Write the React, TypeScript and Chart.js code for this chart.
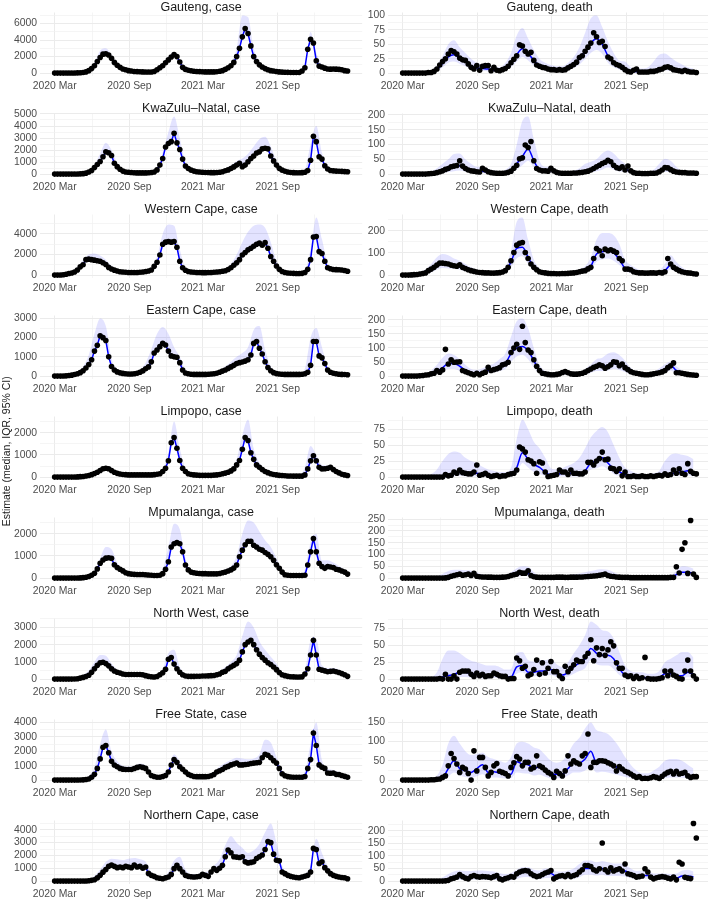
import React, { useEffect, useRef } from "react";
import { Chart, registerables } from "chart.js";
Chart.register(...registerables);

// ---------- x axis (weeks since 2020-03-01) ----------
const X_MAJOR = [0, 26.29, 52.14, 78.43];
const X_MAJOR_LABELS = ["2020 Mar", "2020 Sep", "2021 Mar", "2021 Sep"];
const X_MINOR = [13.14, 39.29, 65.29, 91.43];
const Y_TITLE = "Estimate (median, IQR, 95% CI)";

// ---------- data: weekly observations (104 weeks), bands / medians every 2 weeks (52) ----------
const gautengCase = [0,0,0,0,5,10,15,20,30,50, 80,150,300,550,900,1400,1900,2300,2350,2200, 1800,1300,950,700,500,400,300,250,200,180, 160,150,140,130,140,200,400,650,900,1250, 1600,1950,2250,2000,1350,700,450,350,280,230, 200,180,160,150,150,150,150,170,220,300, 450,650,900,1300,2000,3000,4400,5400,4800,3300, 2000,1400,1000,750,550,400,300,250,200,150, 120,100,90,80,80,80,80,250,650,2900, 4100,3650,1500,850,750,600,500,480,500,480, 450,400,300,250];
const gautengCaseHi = [50,50,50,80,100,200,500,1300,2700,3000, 2200,1200,700,450,300,250,220,300,600,1200, 2000,2600,1700,700,400,300,250,250,300,400, 700,1300,3000,7000,6800,3000,1400,800,450,300, 200,150,150,200,1000,5000,2500,1000,750,700, 650,450];

const gautengDeath = [0,0,0,0,0,0,0,0,0,1, 1,3,7,14,20,25,33,39,37,33, 26,23,22,16,10,7,13,5,12,13, 13,4,10,5,4,6,8,12,18,24, 30,49,47,38,33,36,22,14,12,10, 9,7,6,6,5,6,5,6,9,12, 15,19,27,30,38,45,52,70,63,53, 55,46,28,25,18,15,13,10,6,3, 2,5,7,2,2,2,2,3,3,4, 6,7,10,11,9,6,5,4,3,5, 3,2,2,1];
const gautengDeathMed = [0,0,0,0,0,1,6,17,28,32, 26,20,12,9,8,7,5,4,8,17, 32,42,34,22,12,8,6,5,6,9, 15,25,38,52,60,50,30,18,11,6, 3,3,3,3,4,7,9,8,5,4, 3,2];
const gautengDeathHi = [2,2,2,2,3,5,14,30,50,57, 45,35,25,18,15,12,10,10,18,35, 65,78,60,40,25,18,14,12,12,18, 28,45,70,95,100,80,55,35,22,20, 10,8,8,10,20,32,34,27,20,15, 10,8];
const gautengDeathLo = [0,0,0,0,0,0,3,10,18,20, 16,12,7,5,4,3,2,2,4,10, 20,28,22,13,7,4,3,3,3,5, 9,15,25,35,40,33,18,10,6,3, 1,1,1,1,2,3,5,4,3,2, 1,1];

const kznCase = [0,0,0,0,0,0,0,5,10,20, 40,80,180,300,550,800,1050,1450,1850,1780, 1550,900,620,400,250,180,150,130,110,100, 100,100,100,110,130,180,350,750,1300,2250, 2550,2700,3400,2600,2050,1250,680,470,330,250, 200,170,150,140,130,120,120,130,150,200, 280,350,470,600,750,900,620,750,1030,1300, 1500,1750,1850,2100,2150,2100,1500,1100,750,480, 330,240,180,140,120,110,110,120,150,300, 1150,3150,2700,1450,1250,700,420,300,270,250, 240,230,210,200];
const kznCaseHi = [30,30,30,40,50,100,300,800,1700,2600, 2000,900,400,250,180,160,160,250,600,1800, 3500,4800,3000,1000,500,300,220,200,200,280, 450,750,1100,1300,1700,2300,2900,3100,2300,1100, 500,280,200,200,400,2500,4000,1800,600,400, 350,300];

const kznDeath = [0,0,0,0,0,0,0,0,0,1, 2,3,5,8,11,16,19,25,27,29, 45,27,19,14,11,10,8,7,20,14, 8,5,4,3,3,3,4,6,10,20, 30,52,55,98,90,110,45,19,14,11, 11,10,20,11,6,4,3,3,3,3, 4,4,5,6,8,10,14,19,25,30, 36,40,47,42,30,22,19,25,14,27, 11,5,3,3,2,2,2,3,3,4, 8,14,22,21,15,10,7,6,5,5, 4,4,4,3];
const kznDeathMed = [0,0,0,0,0,2,5,11,18,24, 28,18,11,8,10,6,4,3,4,10, 35,60,85,45,15,10,12,5,3,3, 4,5,8,14,23,34,45,32,21,18, 8,3,2,2,3,8,20,15,7,5, 4,4];
const kznDeathHi = [3,3,3,3,4,10,20,35,50,68, 70,50,35,25,25,18,12,10,15,35, 100,180,195,120,45,25,25,15,10,10, 12,20,35,42,50,70,80,70,50,35, 15,8,6,8,15,35,52,45,25,12, 10,10];
const kznDeathLo = [0,0,0,0,0,0,1,4,7,10, 12,8,5,3,4,2,1,1,1,4, 15,30,45,22,6,4,5,2,1,1, 1,2,3,6,10,15,22,15,9,7, 3,1,0,0,1,3,8,6,3,2, 1,1];

const wcCase = [0,0,10,30,80,150,200,300,500,800, 1000,1500,1550,1500,1450,1400,1350,1200,1030,750, 600,480,400,330,300,280,260,250,250,260, 280,300,350,400,500,850,1250,1950,3000,3200, 3250,3200,3250,2700,1350,720,470,350,300,280, 260,250,240,240,250,260,280,300,330,380, 420,550,720,950,1200,1500,1950,2200,2450,2600, 2800,3000,3100,2900,3150,2600,1800,1350,880,560, 350,250,200,180,170,160,160,170,250,560, 1500,3700,3750,2280,2100,1350,720,620,550,530, 520,500,450,380];
const wcCaseHi = [50,80,200,400,800,1500,2000,2100,1900,1500, 900,550,400,350,330,380,480,750,1800,4000, 4900,4800,2500,700,420,350,330,330,380,450, 600,1100,2000,3200,4200,4800,4900,4600,3200,1400, 550,300,250,250,450,2500,5600,3500,1200,800, 700,600];

const wcDeath = [0,0,0,1,2,3,5,7,10,20, 27,35,45,54,54,52,50,45,42,40, 46,35,30,24,20,17,14,12,11,10, 10,9,9,10,11,14,20,35,65,102, 135,143,147,102,75,50,35,24,15,12, 10,8,7,7,6,6,7,7,8,9, 10,12,15,18,20,28,35,75,120,110, 87,117,110,114,108,102,75,65,27,27, 24,15,12,10,10,9,9,10,10,9, 12,10,15,75,50,35,27,20,15,12, 10,9,6,5];
const wcDeathMed = [0,0,2,5,10,25,42,50,48,42, 38,28,20,14,11,10,9,11,20,60, 120,125,80,35,16,10,7,6,7,8, 10,15,20,40,95,105,110,100,70,30, 20,12,10,9,10,11,20,45,25,15, 10,6];
const wcDeathHi = [2,3,8,15,25,50,80,95,90,75, 65,50,35,25,20,18,17,20,35,110, 240,260,160,70,30,18,13,12,12,14, 18,28,40,80,160,190,190,180,140,70, 45,30,20,18,18,22,50,90,60,35, 20,12];
const wcDeathLo = [0,0,0,2,5,12,25,32,30,27, 24,17,12,8,6,5,5,6,12,35, 75,85,50,20,9,5,3,3,3,4, 5,8,12,25,60,70,75,65,45,17, 10,6,5,4,5,5,10,25,14,8, 5,3];

const ecCase = [0,0,0,5,15,30,50,80,120,180, 280,420,600,850,1300,1600,2100,2000,1850,1000, 500,320,220,170,140,120,110,110,120,150, 200,270,380,480,740,1200,1360,1530,1710,1620, 1300,1050,1000,980,700,320,160,120,100,90, 90,90,90,90,100,110,120,150,200,260, 320,400,480,560,650,700,730,780,850,1100, 1700,1800,1450,1150,750,450,280,180,130,110, 100,90,90,90,90,90,90,100,120,200, 560,1800,1800,1050,950,650,320,200,150,120, 100,90,80,70];
const ecCaseHi = [30,40,80,150,250,500,1100,2200,3000,2600, 900,350,200,170,200,350,700,1400,2200,2550, 2200,1500,1000,300,150,130,130,150,200,300, 500,750,1000,1200,1500,2400,2600,1400,500,200, 150,130,130,140,400,2000,2500,1500,500,200, 150,110];

const ecDeath = [0,0,0,0,0,0,1,2,4,5, 8,10,20,14,22,95,43,58,49,50, 51,20,16,12,8,5,10,5,10,14, 31,20,23,26,30,40,43,49,84,100, 113,95,177,119,93,84,58,35,20,10, 8,6,5,5,6,8,13,16,12,8, 7,7,8,10,14,20,25,31,35,40, 37,28,33,40,51,49,37,43,30,23, 16,12,10,8,6,5,5,6,8,10, 12,15,20,30,37,47,12,12,10,8, 6,5,4,3];
const ecDeathMed = [0,0,0,1,3,7,15,30,45,45, 35,20,10,10,15,20,25,35,45,80, 100,105,90,55,20,8,5,6,10,10, 7,8,14,25,35,35,38,45,42,30, 16,8,5,6,10,15,25,38,20,10, 6,4];
const ecDeathHi = [2,2,3,5,10,20,40,65,80,75, 60,40,25,22,28,38,45,60,80,140, 195,205,170,100,40,18,12,12,18,18, 14,15,25,42,60,65,80,85,75,55, 30,15,10,10,15,28,42,52,35,20, 12,8];
const ecDeathLo = [0,0,0,0,1,3,7,15,25,25, 18,10,4,4,7,10,13,18,25,50, 70,75,60,30,9,3,2,2,4,4, 3,3,6,12,18,18,20,25,22,15, 7,3,2,2,4,7,12,20,8,4, 2,1];

const limpopoCase = [0,0,0,0,0,0,0,5,10,20, 30,50,70,110,160,220,300,380,400,380, 300,220,170,140,120,110,100,100,100,100, 100,100,100,100,100,110,130,150,250,400, 740,1550,1780,1300,750,400,250,150,120,100, 90,80,80,80,80,80,90,100,120,150, 180,220,280,370,550,750,1250,1780,1650,1100, 800,550,440,340,250,200,150,120,100,80, 70,60,50,50,45,45,45,45,100,370, 740,960,740,440,370,380,400,440,340,250, 190,130,100,75];
const limpopoCaseHi = [20,20,20,30,40,60,100,220,400,500, 400,240,160,130,120,120,120,120,160,350, 1100,2500,1300,400,170,120,110,110,120,160, 250,400,800,1900,2600,1300,650,380,220,140, 100,80,70,70,450,1400,1000,550,520,450, 280,140];

const limpopoDeath = [0,0,0,0,0,0,0,0,0,0, 0,0,0,0,0,4,2,3,8,6, 11,7,6,5,5,8,19,3,4,6, 3,1,2,3,1,2,2,4,5,6, 11,47,44,39,27,25,21,6,24,22, 8,1,2,3,4,11,8,8,4,11, 6,6,5,5,8,23,23,19,25,29, 39,27,28,14,13,9,13,2,8,1, 1,2,1,1,2,1,1,2,1,2, 3,2,5,3,4,11,6,13,6,4, 21,9,6,5];
const limpopoDeathMed = [0,0,0,0,0,0,0,0,3,6, 8,6,5,6,4,3,2,2,2,4, 15,38,28,20,15,8,3,4,6,6, 6,5,10,22,25,30,22,13,8,4, 2,1,1,1,1,2,3,5,7,8, 10,6];
const limpopoDeathHi = [1,1,1,1,2,5,12,25,36,40, 38,30,25,22,16,12,10,8,8,15, 60,90,75,55,45,30,14,12,14,18, 22,30,45,62,72,78,70,50,30,15, 10,6,5,5,6,10,25,35,37,35, 33,28];
const limpopoDeathLo = [0,0,0,0,0,0,0,0,0,1, 2,1,1,1,1,0,0,0,0,1, 5,22,15,8,5,2,0,1,1,1, 1,1,3,12,14,17,12,5,2,1, 0,0,0,0,0,0,1,1,2,2, 3,1];

const mpumalangaCase = [0,0,0,0,0,0,0,0,5,10, 20,40,70,130,220,415,670,815,900,920, 890,600,480,400,325,240,200,180,170,160, 160,160,150,140,130,120,120,130,200,400, 740,1400,1550,1600,1550,1185,590,370,270,240, 220,210,200,200,190,190,190,190,210,240, 270,320,370,450,590,960,1260,1500,1660,1660, 1480,1400,1300,1260,1155,1070,960,800,600,440, 270,150,130,120,120,120,120,120,130,590, 1185,1780,1185,670,520,440,520,500,475,400, 370,320,270,180];
const mpumalangaCaseHi = [20,20,20,20,30,50,120,350,900,1400, 1300,700,400,260,220,210,200,180,180,400, 1400,2450,2200,900,350,280,260,250,260,300, 400,550,1000,2000,2600,2500,2100,1700,1400,900, 400,180,160,170,400,1600,2000,800,800,700, 550,380];

const mpumalangaDeath = [0,0,0,0,0,0,0,0,0,0, 0,0,0,0,0,1,3,8,11,14, 17,12,14,17,11,20,8,6,5,5, 4,4,3,3,3,4,5,7,11,14, 17,25,21,21,31,11,6,4,3,3, 3,3,3,3,4,4,4,3,3,4, 4,4,5,5,6,7,8,9,10,12, 14,17,11,8,7,5,4,3,3,3, 2,2,2,2,2,2,2,2,2,2, 2,2,2,2,3,3,48,22,122,150, 20,245,17,3];
const mpumalangaDeathMed = [0,0,0,0,0,0,0,0,3,10, 13,14,14,10,6,4,3,3,5,10, 16,21,20,8,4,3,3,3,3,3, 4,5,6,8,10,13,12,7,4,3, 2,2,2,2,2,2,2,3,15,25, 25,20];
const mpumalangaDeathHi = [1,1,1,1,2,3,8,18,30,35, 35,33,32,25,15,10,8,8,12,25, 42,50,48,25,10,8,8,8,10,12, 16,20,25,30,36,38,35,25,14,8, 6,5,5,5,5,5,6,10,30,50, 48,40];
const mpumalangaDeathLo = [0,0,0,0,0,0,0,0,0,3, 5,6,5,3,2,1,1,1,1,3, 6,9,8,3,1,1,1,1,1,1, 1,1,2,3,4,5,4,2,1,1, 0,0,0,0,0,0,0,0,5,10, 10,5];

const northWestCase = [0,0,0,0,0,0,0,5,20,60, 100,150,220,400,600,800,950,980,900,770, 600,470,400,350,300,270,265,265,265,265, 265,250,200,160,140,120,150,250,365,570, 1150,1250,870,600,400,250,180,160,160,160, 170,170,180,180,190,200,210,250,300,400, 450,600,700,800,900,1100,1580,2000,2150,2250, 2000,1700,1450,1250,1100,950,850,700,550,380, 250,200,160,140,130,120,120,130,300,600, 1400,2250,1400,570,520,480,430,450,470,430, 380,320,250,160];
const northWestCaseHi = [30,30,30,50,100,250,500,1000,1400,1350, 900,550,400,350,340,330,280,200,250,600, 1500,1700,700,280,230,240,260,280,320,450, 700,1000,1400,2500,3350,3000,2200,1700,1300,900, 400,220,180,170,500,2200,2300,800,650,650, 550,350];

const northWestDeath = [0,0,0,0,0,0,0,0,0,0, 0,0,0,1,0,7,0,0,5,0, 10,12,12,12,7,4,9,5,7,4, 5,5,9,7,5,4,4,0,1,1, 31,27,16,19,5,7,14,28,7,24, 9,16,26,11,11,5,1,19,11,16, 21,28,26,26,33,38,58,27,46,36, 45,35,43,55,49,24,16,16,6,4, 5,1,4,1,2,32,1,0,0,0, 1,2,12,5,12,6,4,1,0,12, 28,12,5,0];
const northWestDeathMed = [0,0,0,0,0,0,1,3,5,7, 10,10,8,7,6,6,7,6,4,3, 18,20,10,10,12,12,14,8,6,10, 18,24,30,45,38,35,35,30,15,6, 3,2,2,2,1,2,8,8,5,5, 10,7];
const northWestDeathHi = [1,1,1,1,2,3,10,30,42,42, 38,32,27,25,22,20,20,18,14,15, 38,40,28,26,28,28,30,22,18,25, 38,50,65,85,80,72,70,60,40,20, 12,10,10,8,8,12,25,30,35,40, 40,32];
const northWestDeathLo = [0,0,0,0,0,0,0,0,1,2, 3,3,2,2,1,1,2,1,1,0, 8,10,4,4,5,5,6,3,2,4, 8,12,16,28,22,20,20,15,6,2, 1,0,0,0,0,0,2,3,1,1, 3,2];

const freeStateCase = [0,0,0,0,0,0,0,0,5,10, 20,40,75,200,400,810,1470,2280,2400,1900, 1300,1050,930,810,760,740,740,740,800,880, 930,880,810,560,320,250,200,200,250,320, 560,1050,1420,1230,930,750,560,400,320,250, 240,240,240,240,250,300,390,560,650,740, 880,950,1055,1120,1180,1055,1055,1080,1100,1150, 1180,1200,1230,1545,1790,1720,1545,1350,1180,810, 440,300,245,220,200,200,200,200,250,810, 1420,3260,2400,1055,900,810,490,480,490,400, 390,320,260,200];
const freeStateCaseHi = [30,30,30,40,60,100,300,900,2500,3500, 2000,1300,1000,950,1000,1150,1000,450,300,400, 900,1800,1300,700,400,330,330,380,600,950, 1200,1400,1550,1500,1450,1500,1800,2800,2600,1600, 700,330,280,280,600,2500,4000,1400,800,700, 550,350];

const freeStateDeath = [0,0,0,0,0,0,0,0,0,0, 1,1,2,3,7,11,37,69,56,42, 20,33,29,17,0,76,24,59,59,33, 11,20,37,43,23,20,17,11,33,45, 61,55,37,46,46,29,33,63,37,33, 26,20,16,7,23,17,11,24,63,42, 50,45,42,63,69,120,33,46,46,50, 50,49,45,42,37,24,35,29,23,20, 16,11,7,9,4,5,4,6,9,7, 4,10,16,20,23,16,23,16,18,20, 11,7,9,9];
const freeStateDeathMed = [0,0,0,0,0,1,2,6,30,50, 30,25,20,30,40,20,22,18,14,15, 48,42,40,30,35,25,15,15,15,30, 45,45,55,75,45,50,45,38,30,22, 15,8,5,5,7,8,15,20,20,18, 12,9];
const freeStateDeathHi = [2,2,2,2,3,5,12,40,95,115, 95,75,65,68,72,60,55,50,45,60, 95,100,95,85,80,65,50,45,50,70, 95,110,135,150,130,125,120,105,85,60, 40,25,18,18,25,35,50,55,55,50, 40,30];
const freeStateDeathLo = [0,0,0,0,0,0,0,1,10,20, 12,8,6,10,15,7,7,6,4,5, 20,18,17,12,14,9,5,5,5,12, 20,20,25,35,20,22,20,16,12,8, 5,2,1,1,2,2,5,7,7,6, 4,2];

const northernCapeCase = [0,0,0,0,0,0,0,0,0,0, 5,10,30,60,105,250,450,700,900,1150, 1250,1150,1050,1100,1050,1150,1100,1050,1250,1100, 1150,1000,1100,600,450,370,260,220,185,250, 320,525,970,1240,970,710,450,370,340,315, 340,370,525,450,370,710,970,840,1000,1240, 1900,2420,2210,1900,1870,1840,1900,1500,1420,1460, 1500,1760,1900,2030,2470,3080,3000,2100,1630,1580, 710,580,450,370,315,280,260,315,380,450, 710,2550,2470,1370,1500,1050,800,580,450,370, 315,280,260,185];
const northernCapeCaseHi = [30,30,30,30,40,60,150,400,900,1500, 1750,1700,1650,1750,1800,1700,1500,700,400,350, 700,1600,1900,900,550,550,700,750,1200,1700, 2800,3500,3000,2600,2200,2400,2900,3800,4500,3000, 1200,600,420,380,550,1200,3300,2200,1200,650, 450,330];

const northernCapeDeath = [0,0,0,0,0,0,0,0,0,0, 0,0,0,0,0,1,3,9,12,16, 26,18,12,9,18,22,18,16,18,17, 16,13,18,22,9,5,10,13,18,16, 29,36,40,42,40,29,22,18,20,26, 32,36,42,9,16,20,22,18,26,18, 22,26,36,45,62,62,58,45,40,49, 151,45,36,53,40,45,49,40,68,29, 26,22,16,18,20,49,36,16,9,13, 16,18,16,12,9,16,5,75,68,15, 12,10,229,171];
const northernCapeDeathMed = [0,0,0,0,0,0,0,0,3,12, 18,14,16,17,17,16,16,12,10,14, 25,35,36,25,22,30,30,18,20,22, 25,38,50,50,45,50,42,42,42,40, 30,20,22,22,14,14,15,12,12,20, 20,17];
const northernCapeDeathHi = [1,1,1,1,1,2,5,15,28,38, 42,40,40,42,42,40,38,32,28,32, 45,55,55,45,42,50,50,38,38,42, 50,68,82,82,75,80,75,70,70,66, 50,40,42,42,30,30,30,28,30,42, 45,38];
const northernCapeDeathLo = [0,0,0,0,0,0,0,0,0,3, 5,4,5,5,5,4,4,3,2,3, 8,15,16,9,7,12,12,6,7,8, 9,15,25,25,22,25,20,20,20,18, 12,7,8,8,4,4,5,3,3,7, 7,5];

// y-axis label steps per panel
const Y_STEPS = [2000, 25, 1000, 50, 2000, 100, 1000, 50, 1000, 25, 1000, 50, 1000, 25, 1000, 50, 1000, 50];

type Panel = { title: string; obs: number[]; med: number[] | null; hi: number[]; lo: number[] | null };

const PANELS: Panel[] = [
  { title: "Gauteng, case", obs: gautengCase, med: null, hi: gautengCaseHi, lo: null },
  { title: "Gauteng, death", obs: gautengDeath, med: gautengDeathMed, hi: gautengDeathHi, lo: gautengDeathLo },
  { title: "KwaZulu\u2013Natal, case", obs: kznCase, med: null, hi: kznCaseHi, lo: null },
  { title: "KwaZulu\u2013Natal, death", obs: kznDeath, med: kznDeathMed, hi: kznDeathHi, lo: kznDeathLo },
  { title: "Western Cape, case", obs: wcCase, med: null, hi: wcCaseHi, lo: null },
  { title: "Western Cape, death", obs: wcDeath, med: wcDeathMed, hi: wcDeathHi, lo: wcDeathLo },
  { title: "Eastern Cape, case", obs: ecCase, med: null, hi: ecCaseHi, lo: null },
  { title: "Eastern Cape, death", obs: ecDeath, med: ecDeathMed, hi: ecDeathHi, lo: ecDeathLo },
  { title: "Limpopo, case", obs: limpopoCase, med: null, hi: limpopoCaseHi, lo: null },
  { title: "Limpopo, death", obs: limpopoDeath, med: limpopoDeathMed, hi: limpopoDeathHi, lo: limpopoDeathLo },
  { title: "Mpumalanga, case", obs: mpumalangaCase, med: null, hi: mpumalangaCaseHi, lo: null },
  { title: "Mpumalanga, death", obs: mpumalangaDeath, med: mpumalangaDeathMed, hi: mpumalangaDeathHi, lo: mpumalangaDeathLo },
  { title: "North West, case", obs: northWestCase, med: null, hi: northWestCaseHi, lo: null },
  { title: "North West, death", obs: northWestDeath, med: northWestDeathMed, hi: northWestDeathHi, lo: northWestDeathLo },
  { title: "Free State, case", obs: freeStateCase, med: null, hi: freeStateCaseHi, lo: null },
  { title: "Free State, death", obs: freeStateDeath, med: freeStateDeathMed, hi: freeStateDeathHi, lo: freeStateDeathLo },
  { title: "Northern Cape, case", obs: northernCapeCase, med: null, hi: northernCapeCaseHi, lo: null },
  { title: "Northern Cape, death", obs: northernCapeDeath, med: northernCapeDeathMed, hi: northernCapeDeathHi, lo: northernCapeDeathLo },
];

// ---------- layout / style ----------
const FONT = "'Liberation Sans', Arial, Helvetica, sans-serif";
const ROW_PITCH = 101;
const CANVAS_H = 96;
const COLS = [
  { left: 0, width: 365, yW: 40, padR: 2 },
  { left: 354, width: 360, yW: 34, padR: 3 },
];
const GRID_MAJOR = "#EBEBEB";
const GRID_MINOR = "#F0F0F0";
const BAND = "rgba(0,0,255,0.11)";
const LINE = "#0000FF";
const X_MIN = -5.15;
const X_MAX = 108.15;

function PanelChart({ panel, step, idx }: { panel: Panel; step: number; idx: number }) {
  const ref = useRef<HTMLCanvasElement | null>(null);
  const col = COLS[idx % 2];
  const top = Math.floor(idx / 2) * ROW_PITCH;

  useEffect(() => {
    const canvas = ref.current;
    if (!canvas) return;
    const obsPts = panel.obs.map((y, i) => ({ x: i, y }));
    const medPts = panel.med ? panel.med.map((y, i) => ({ x: i * 2, y })) : obsPts;
    const hiPts = panel.hi.map((y, i) => ({ x: i * 2, y }));
    const loPts = panel.lo ? panel.lo.map((y, i) => ({ x: i * 2, y })) : null;
    const R = Math.max(...panel.obs, ...panel.hi, ...(panel.med || []));
    const datasets: any[] = [
      {
        label: "observed",
        data: obsPts,
        showLine: false,
        pointRadius: 2.8,
        pointHoverRadius: 2.8,
        pointBackgroundColor: "#000000",
        pointBorderWidth: 0,
        borderColor: "transparent",
        order: 0,
      },
      {
        label: "median",
        data: medPts,
        borderColor: LINE,
        borderWidth: 1.5,
        pointRadius: 0,
        fill: false,
        tension: 0,
        cubicInterpolationMode: panel.med ? "monotone" : "default",
        order: 1,
      },
    ];
    let target = 1;
    if (loPts) {
      datasets.push({
        label: "lo",
        data: loPts,
        borderColor: "transparent",
        borderWidth: 0,
        pointRadius: 0,
        fill: false,
        cubicInterpolationMode: "monotone",
        order: 2,
      });
      target = 2;
    }
    datasets.push({
      label: "hi",
      data: hiPts,
      borderColor: "transparent",
      borderWidth: 0,
      pointRadius: 0,
      fill: target,
      backgroundColor: BAND,
      cubicInterpolationMode: "monotone",
      order: 3,
    });

    const gridColor = (c: any) => (c.tick && c.tick.minor ? GRID_MINOR : GRID_MAJOR);
    const gridWidth = (c: any) => (c.tick && c.tick.minor ? 0.7 : 1);

    const chart = new Chart(canvas, {
      type: "line",
      data: { datasets },
      options: {
        responsive: false,
        animation: false,
        devicePixelRatio: 1,
        events: [],
        layout: { padding: { left: 0, right: col.padR, top: 0, bottom: 0 } },
        plugins: {
          legend: { display: false },
          tooltip: { enabled: false },
          title: {
            display: true,
            text: panel.title,
            fullSize: false,
            color: "#1A1A1A",
            font: { family: FONT, size: 12.5, weight: "normal", lineHeight: 1 },
            padding: { top: 1, bottom: -1 },
          },
        },
        scales: {
          x: {
            type: "linear",
            min: X_MIN,
            max: X_MAX,
            border: { display: false },
            grid: { drawTicks: false, color: gridColor, lineWidth: gridWidth },
            ticks: {
              autoSkip: false,
              maxRotation: 0,
              minRotation: 0,
              padding: 4,
              color: "#4D4D4D",
              font: { family: FONT, size: 10.4 },
              callback: (_v: any, i: number, t: any[]) => (t[i] && t[i].lbl) || "",
            },
            afterBuildTicks: (s: any) => {
              const ticks = [
                ...X_MAJOR.map((v, k) => ({ value: v, lbl: X_MAJOR_LABELS[k] })),
                ...X_MINOR.map((v) => ({ value: v, minor: true })),
              ];
              ticks.sort((a, b) => a.value - b.value);
              s.ticks = ticks;
            },
            afterFit: (s: any) => {
              s.height = 20;
            },
          },
          y: {
            type: "linear",
            min: -0.05 * R,
            max: 1.05 * R,
            border: { display: false },
            grid: { drawTicks: false, color: gridColor, lineWidth: gridWidth },
            ticks: {
              autoSkip: false,
              padding: 3,
              color: "#4D4D4D",
              font: { family: FONT, size: 10.4 },
              callback: (v: any, i: number, t: any[]) => (t[i] && t[i].minor ? "" : String(v)),
            },
            afterBuildTicks: (s: any) => {
              const ticks: any[] = [];
              const half = step / 2;
              for (let k = 0; k * half <= s.max + 1e-9; k++) {
                ticks.push({ value: k * half, minor: k % 2 === 1 });
              }
              s.ticks = ticks;
            },
            afterFit: (s: any) => {
              s.width = col.yW;
            },
          },
        },
      } as any,
    });
    return () => chart.destroy();
  }, [panel, step]);

  return (
    <canvas
      ref={ref}
      width={col.width}
      height={CANVAS_H}
      style={{ position: "absolute", left: col.left, top, width: col.width, height: CANVAS_H }}
    />
  );
}

export default function App() {
  return (
    <div
      style={{
        position: "absolute",
        left: 0,
        top: 0,
        width: 708,
        height: 903,
        overflow: "hidden",
        background: "#ffffff",
        fontFamily: FONT,
      }}
    >
      {PANELS.map((p, i) => (
        <PanelChart key={i} panel={p} step={Y_STEPS[i]} idx={i} />
      ))}
      <div
        style={{
          position: "absolute",
          left: 0,
          top: 0,
          width: 11,
          height: 903,
          display: "flex",
          alignItems: "center",
          justifyContent: "center",
        }}
      >
        <div
          style={{
            transform: "rotate(-90deg)",
            whiteSpace: "nowrap",
            fontSize: 10.5,
            color: "#1A1A1A",
            lineHeight: 1,
          }}
        >
          {Y_TITLE}
        </div>
      </div>
    </div>
  );
}
